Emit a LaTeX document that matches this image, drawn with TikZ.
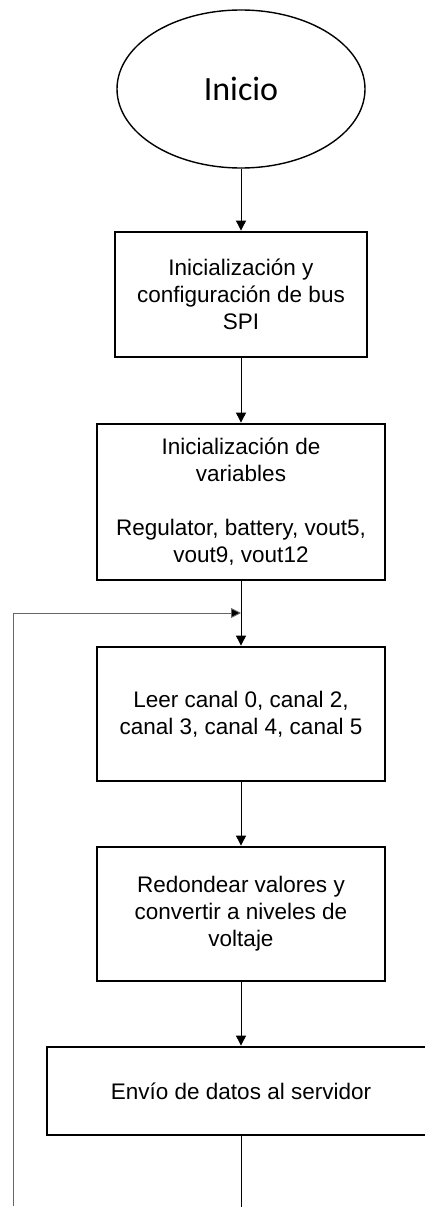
\documentclass[tikz,border=0pt]{standalone}
\usepackage{fontspec}
\setmainfont{Liberation Sans}
\newfontfamily\carlito{Carlito}
\usetikzlibrary{shapes.geometric,arrows.meta}
\begin{document}
\begin{tikzpicture}[x=1pt,y=-1pt,
  procbox/.style={draw=black,line width=2.8pt,fill=white,rectangle,align=center,inner sep=0pt,
    font=\fontsize{22.5}{27}\selectfont},
  conn/.style={line width=0.9pt,-{Triangle[length=10pt,width=10pt]}},
  plain/.style={line width=0.9pt},
  loopline/.style={line width=0.9pt,draw=black!60}]
\useasboundingbox (0,0) rectangle (425,1207);
\clip (0,0) rectangle (425,1207);
\node[ellipse,draw,line width=1.4pt,minimum width=248pt,minimum height=158pt,inner sep=0pt,
  font=\carlito\fontsize{34}{40}\selectfont] (start) at (241,89) {Inicio};
\node[procbox,minimum width=252pt,minimum height=125pt] (b1) at (241,294.5)
  {Inicialización y\\configuración de bus\\SPI};
\node[procbox,minimum width=288pt,minimum height=156pt] (b2) at (241,502)
  {Inicialización de\\variables\\[27pt]Regulator, battery, vout5,\\vout9, vout12};
\node[procbox,minimum width=288pt,minimum height=134pt] (b3) at (241,714)
  {Leer canal 0, canal 2,\\canal 3, canal 4, canal 5};
\node[procbox,minimum width=288pt,minimum height=134pt] (b4) at (241,914)
  {Redondear valores y\\convertir a niveles de\\voltaje};
\node[procbox,minimum width=388pt,minimum height=88pt] (b5) at (241,1091)
  {Envío de datos al servidor};
\coordinate (botC) at (241,1210);
\coordinate (botL) at (13,1206);
\coordinate (loopT) at (13,613);
\coordinate (loopE) at (241,613);
\draw[conn] (start.south) -- (b1.north);
\draw[conn] (b1.south) -- (b2.north);
\draw[conn] (b2.south) -- (b3.north);
\draw[conn] (b3.south) -- (b4.north);
\draw[conn] (b4.south) -- (b5.north);
\draw[plain] (b5.south) -- (botC);
\draw[loopline] (botL) -- (loopT) -- ([xshift=-8pt]loopE);
\draw[conn,draw=black!60,-{Triangle[length=10pt,width=10pt,fill=black]}] ([xshift=-10pt]loopE) -- (loopE);
\end{tikzpicture}
\end{document}
